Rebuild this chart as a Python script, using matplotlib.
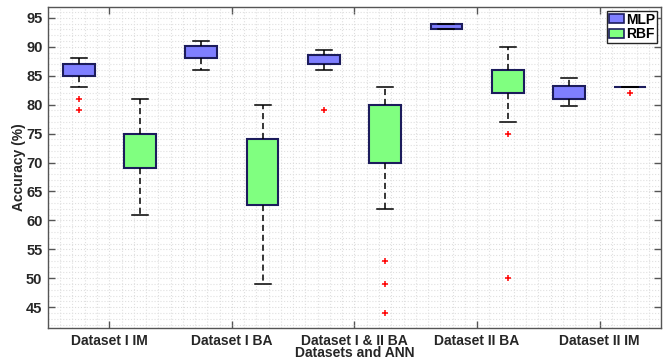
import matplotlib
matplotlib.use("Agg")
import matplotlib.pyplot as plt
from matplotlib.patches import Patch
from matplotlib.ticker import MultipleLocator

plt.rcParams['font.family'] = ['Liberation Sans', 'DejaVu Sans']
plt.rcParams['font.weight'] = 'bold'

categories = ["Dataset I IM", "Dataset I BA", "Dataset I & II BA", "Dataset II BA", "Dataset II IM"]
series = ["MLP", "RBF"]

# box statistics: lower whisker, q1, median, q3, upper whisker, outliers
mlp_whislo = [83, 86, 86, 93, 79.7]
mlp_q1 = [85, 88, 87, 93, 81]
mlp_med = [86, 90, 87.8, 93.5, 82]
mlp_q3 = [87, 90.1, 88.5, 94, 83.3]
mlp_whishi = [88, 91, 89.5, 94, 84.6]
mlp_fliers = [[81, 79], [], [79], [], []]

rbf_whislo = [61, 49, 62, 77, 83]
rbf_q1 = [69, 62.7, 70, 82, 83]
rbf_med = [72, 68, 75, 84, 83]
rbf_q3 = [75, 74, 80, 86, 83]
rbf_whishi = [81, 80, 83, 90, 83]
rbf_fliers = [[], [], [53, 49, 44], [75, 50], [82]]

ytick_vals = [45, 50, 55, 60, 65, 70, 75, 80, 85, 90, 95]

fig = plt.figure(figsize=(6.7, 3.62), dpi=100)
ax = fig.add_axes([0.0716, 0.094, 0.915, 0.887])

axis_col = '#262626'
edge_col = '#1c1c5c'

def stats(wl, q1, med, q3, wh, fl):
    return [dict(whislo=a, q1=b, med=c, q3=d, whishi=e, fliers=f)
            for a, b, c, d, e, f in zip(wl, q1, med, q3, wh, fl)]

n = len(categories)
pos = list(range(1, n + 1))
groups = [
    (stats(mlp_whislo, mlp_q1, mlp_med, mlp_q3, mlp_whishi, mlp_fliers), -0.25, '#7f7fff'),
    (stats(rbf_whislo, rbf_q1, rbf_med, rbf_q3, rbf_whishi, rbf_fliers), 0.25, '#80ff80'),
]
for st, off, col in groups:
    ax.bxp(st, positions=[p + off for p in pos], widths=0.26, capwidths=0.13,
           patch_artist=True, manage_ticks=False,
           boxprops=dict(facecolor=col, edgecolor=edge_col, linewidth=1.5),
           whiskerprops=dict(color='black', linestyle=(0, (4, 2.5)), linewidth=1.1),
           capprops=dict(color='black', linewidth=1.1),
           medianprops=dict(linewidth=0),
           flierprops=dict(marker='+', markeredgecolor='red', markersize=5, markeredgewidth=1.1,
                           linestyle='none'),
           zorder=3)

ax.set_xlim(0.5, n + 0.5)
ax.set_ylim(41.4, 96.9)
ax.set_xticks(pos)
ax.set_xticklabels(categories, fontsize=10, fontweight='bold', color=axis_col)
ax.set_yticks(ytick_vals)
ax.set_yticklabels([str(v) for v in ytick_vals], fontsize=10.5, fontweight='bold', color=axis_col)
ax.xaxis.set_minor_locator(MultipleLocator(0.1))
ax.yaxis.set_minor_locator(MultipleLocator(1))
ax.tick_params(which='major', direction='in', length=5, width=1, color='#555555',
               top=True, right=True, pad=4)
ax.tick_params(which='minor', length=0)
ax.grid(which='major', color='#dcdcdc', linestyle=':', linewidth=0.8, zorder=0)
ax.grid(which='minor', color='#e0e0e0', linestyle=':', linewidth=0.8, zorder=0)
ax.set_axisbelow(True)
for s in ax.spines.values():
    s.set_color('#555555')
    s.set_linewidth(1)

ax.set_xlabel("Datasets and ANN", fontsize=10, fontweight='bold', color=axis_col, labelpad=-1)
ax.set_ylabel("Accuracy (%)", fontsize=10, fontweight='bold', color=axis_col, labelpad=0)

handles = [Patch(facecolor=groups[0][2], edgecolor=edge_col, linewidth=1.2, label=series[0]),
           Patch(facecolor=groups[1][2], edgecolor=edge_col, linewidth=1.2, label=series[1])]
leg = ax.legend(handles=handles, loc='upper right', prop=dict(weight='bold', size=10),
                handlelength=1.1, handleheight=0.65, handletextpad=0.15, borderpad=0.12,
                labelspacing=0.05, borderaxespad=0.3, fancybox=False, framealpha=1)
leg.get_frame().set_edgecolor('#262626')
leg.get_frame().set_linewidth(1)

fig.savefig("out.png", dpi=100)
